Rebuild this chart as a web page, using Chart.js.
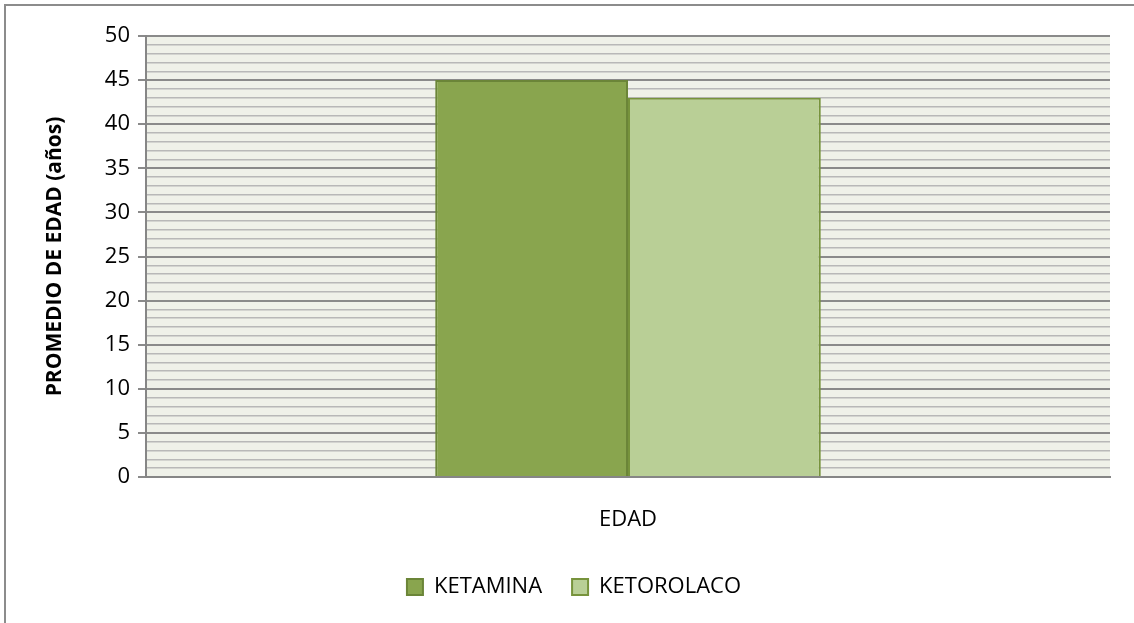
<!DOCTYPE html>
<html>
<head>
<meta charset="utf-8">
<script src="https://cdn.jsdelivr.net/npm/chart.js@4"></script>
<style>
  html, body { margin: 0; padding: 0; background: #ffffff; }
  #wrap { position: relative; width: 1134px; height: 623px; }
</style>
</head>
<body>
<div id="wrap"><canvas id="c" width="1134" height="623"></canvas></div>
<script>
const categories = ['EDAD'];
const seriesNames = ['KETAMINA', 'KETOROLACO'];
const ketaminaValues = [45];
const ketorolacoValues = [43];
const yTickMin = 0;
const yTickMax = 50;
const yMajorStep = 5;
const yMinorStep = 1;
const yAxisTitle = 'PROMEDIO DE EDAD (años)';

const FONT = "'Open Sans', 'Noto Sans', sans-serif";

const frameAndBg = {
  id: 'frameAndBg',
  beforeDraw(chart) {
    const { ctx, chartArea: a } = chart;
    ctx.save();
    ctx.fillStyle = '#ffffff';
    ctx.fillRect(0, 0, chart.width, chart.height);
    ctx.strokeStyle = '#8c8c8c';
    ctx.lineWidth = 2;
    ctx.beginPath();
    ctx.moveTo(5, chart.height);
    ctx.lineTo(5, 5);
    ctx.lineTo(chart.width, 5);
    ctx.stroke();
    ctx.fillStyle = '#eff1e9';
    ctx.fillRect(a.left, a.top, a.right - a.left, a.bottom - a.top);
    ctx.restore();
  }
};

new Chart(document.getElementById('c'), {
  type: 'bar',
  data: {
    labels: categories,
    datasets: [
      {
        label: seriesNames[0],
        data: ketaminaValues,
        backgroundColor: '#89a54e',
        borderColor: '#6b8538',
        borderWidth: 2,
        barPercentage: 1.0,
        categoryPercentage: 0.4
      },
      {
        label: seriesNames[1],
        data: ketorolacoValues,
        backgroundColor: '#b9cf96',
        borderColor: '#77933c',
        borderWidth: 2,
        barPercentage: 1.0,
        categoryPercentage: 0.4
      }
    ]
  },
  options: {
    responsive: false,
    animation: false,
    layout: { padding: { left: 38, top: 36, right: 24, bottom: 15 } },
    plugins: {
      legend: {
        position: 'bottom',
        labels: {
          font: { family: FONT, size: 22 },
          color: '#000000',
          boxWidth: 16,
          boxHeight: 16,
          padding: 30
        }
      },
      tooltip: { enabled: false }
    },
    scales: {
      x: {
        grid: { display: false, drawTicks: false },
        border: { display: true, color: '#868686', width: 2 },
        ticks: { font: { family: FONT, size: 22 }, color: '#000000', padding: 30 },
        afterFit(scale) { scale.height = 69; }
      },
      y: {
        min: yTickMin,
        max: yTickMax,
        ticks: {
          stepSize: yMinorStep,
          autoSkip: false,
          font: { family: FONT, size: 22 },
          color: '#000000',
          padding: 8,
          callback: (v) => (v % yMajorStep === 0 ? String(v) : '')
        },
        grid: {
          color: (c) => (c.tick && c.tick.value % yMajorStep === 0 ? '#8a8a8a' : '#b8b8b8'),
          lineWidth: (c) => (c.tick && c.tick.value % yMajorStep === 0 ? 2 : 1.5),
          tickColor: (c) => (c.tick && c.tick.value % yMajorStep === 0 ? '#8a8a8a' : 'rgba(0,0,0,0)'),
          tickLength: 8
        },
        border: { display: true, color: '#868686', width: 2 },
        title: {
          display: true,
          text: yAxisTitle,
          font: { family: FONT, size: 21, weight: 'bold' },
          color: '#000000'
        },
        afterFit(scale) { scale.width = 108; }
      }
    }
  },
  plugins: [frameAndBg]
});
</script>
</body>
</html>
